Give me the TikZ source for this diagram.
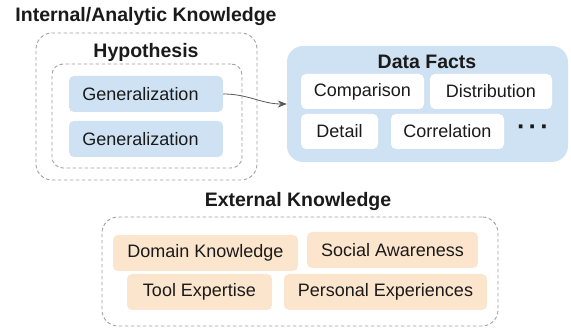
\documentclass[tikz,border=0pt]{standalone}
\usepackage{fontspec}
\setmainfont{Liberation Sans}
\usetikzlibrary{arrows.meta}
\definecolor{bluefill}{HTML}{CFE2F3}
\definecolor{peach}{HTML}{FCE5CD}
\definecolor{dashgrey}{HTML}{A0A0A0}
\definecolor{txt}{HTML}{1A1A1A}
\definecolor{arrowgrey}{HTML}{595959}
\tikzset{
  itemfont/.style={font=\fontsize{18}{20}\selectfont, text=txt},
  titlefont/.style={font=\fontsize{19.5}{22}\selectfont\bfseries, text=txt},
  dashbox/.style={draw=dashgrey, line width=0.9pt, dash pattern=on 3.5pt off 2.5pt, rounded corners=#1},
  dashbox/.default=14pt,
  bluebox/.style={itemfont, fill=bluefill, rounded corners=5pt, inner sep=0pt},
  whitebox/.style={itemfont, fill=white, rounded corners=5pt, inner sep=0pt},
  peachbox/.style={itemfont, fill=peach, rounded corners=5pt, inner sep=0pt},
  dotfont/.style={font=\fontsize{26}{28}\selectfont\bfseries, text=txt},
}
\begin{document}
\begin{tikzpicture}[x=1pt,y=-1pt]
\useasboundingbox (0,0) rectangle (571,328);
% Internal
\node[titlefont] (tint) at (146,17) {Internal/Analytic Knowledge};
\node[dashbox=16pt, minimum width=221, minimum height=147] (outer) at (146.5,106.5) {};
\node[titlefont] (thyp) at (146,52) {Hypothesis};
\node[dashbox=11pt, minimum width=190, minimum height=104] (inner) at (147,116) {};
\node[bluebox, minimum width=154, minimum height=36] (gen1) at (146,94) {\hbox{Generalization\kern11pt}};
\node[bluebox, minimum width=154, minimum height=36] (gen2) at (146,139) {\hbox{Generalization\kern11pt}};
% Data facts
\node[fill=bluefill, rounded corners=16pt, minimum width=281, minimum height=116, inner sep=0pt] (df) at (427.5,104) {};
\node[titlefont] (tdf) at (427,62) {Data Facts};
\node[whitebox, minimum width=123, minimum height=35] (comp) at (362.5,91.5) {Comparison};
\node[whitebox, minimum width=122, minimum height=35] (dist) at (491,91.5) {Distribution};
\node[whitebox, minimum width=77, minimum height=35] (det) at (339.5,131.5) {Detail};
\node[whitebox, minimum width=113, minimum height=35] (corr) at (447.5,131.5) {Correlation};
\node[dotfont] (dots) at (533,130) {·\hspace{3pt}·\hspace{3pt}·};
% arrow
\draw[arrowgrey, line width=0.8pt, -{Stealth[length=9pt,width=7pt]}] (gen1.east) to[out=0,in=180] (df.west |- 0,104);
% External
\node[titlefont] (text) at (298,202) {External Knowledge};
\node[dashbox=16pt, minimum width=396, minimum height=109] (ext) at (300,271.5) {};
\node[peachbox, minimum width=185, minimum height=36] (dom) at (205.5,253) {Domain Knowledge};
\node[peachbox, minimum width=171, minimum height=36] (soc) at (392.5,250) {Social Awareness};
\node[peachbox, minimum width=145, minimum height=36] (tool) at (199.5,292) {Tool Expertise};
\node[peachbox, minimum width=203, minimum height=36] (pers) at (385.5,292) {Personal Experiences};
\end{tikzpicture}
\end{document}
